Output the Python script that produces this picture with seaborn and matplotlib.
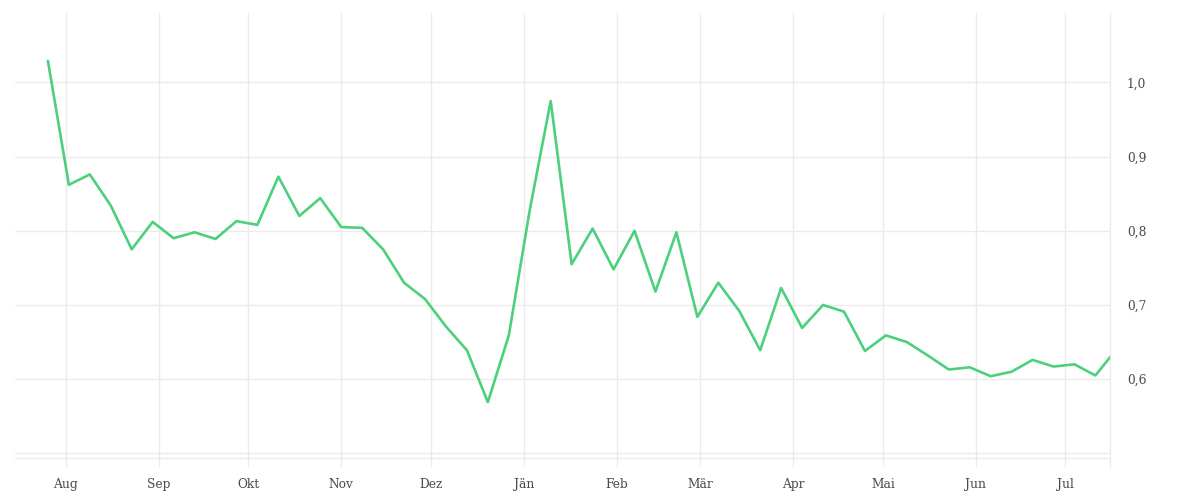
import pandas as pd
import matplotlib
matplotlib.use("Agg")
import matplotlib.pyplot as plt
import seaborn as sns

# weekly values
week_start = "2022-07-26"
values = [
    1.029, 0.862, 0.876, 0.834, 0.775, 0.812, 0.790, 0.798, 0.789, 0.813,
    0.808, 0.873, 0.820, 0.844, 0.805, 0.804, 0.775, 0.730, 0.708, 0.671,
    0.639, 0.569, 0.659, 0.828, 0.975, 0.755, 0.803, 0.748, 0.800, 0.718,
    0.798, 0.684, 0.730, 0.692, 0.639, 0.723, 0.669, 0.700, 0.691, 0.638,
    0.659, 0.650, 0.632, 0.613, 0.616, 0.604, 0.610, 0.626, 0.617, 0.620,
    0.605,
]
last_date = "2023-07-16"
last_value = 0.630

month_starts = ["2022-08-01", "2022-09-01", "2022-10-01", "2022-11-01",
                "2022-12-01", "2023-01-01", "2023-02-01", "2023-03-01",
                "2023-04-01", "2023-05-01", "2023-06-01", "2023-07-01"]
month_labels = ["Aug", "Sep", "Okt", "Nov", "Dez", "Jän", "Feb", "Mär",
                "Apr", "Mai", "Jun", "Jul"]
y_ticks = [0.6, 0.7, 0.8, 0.9, 1.0]

dates = list(pd.date_range(week_start, periods=len(values), freq="7D"))
dates.append(pd.Timestamp(last_date))
df = pd.DataFrame({"date": dates, "value": values + [last_value]})

sns.set_style("white")
plt.rcParams["font.family"] = ["DejaVu Serif"]

grid_color = "#ebebeb"
fig = plt.figure(figsize=(12, 5), dpi=100)
ax = fig.add_axes([0.0125, 0.0666, 0.9128, 0.908])

sns.lineplot(data=df, x="date", y="value", ax=ax, color="#4cd07d",
             linewidth=1.9, zorder=3)

ax.set_xlim(pd.Timestamp("2022-07-15"), pd.Timestamp(last_date))
ax.set_ylim(0.482, 1.094)

ax.set_xticks(pd.to_datetime(month_starts))
ax.set_xticklabels(month_labels)
ax.set_yticks(y_ticks)
ax.set_yticklabels([f"{v:.1f}".replace(".", ",") for v in y_ticks])
ax.yaxis.tick_right()

for v in y_ticks + [0.5, 0.4937]:
    ax.axhline(v, color=grid_color, linewidth=1, zorder=1)
ax.grid(axis="x", color=grid_color, linewidth=1, zorder=1)
ax.grid(axis="y", visible=False)

for side in ["top", "left", "bottom"]:
    ax.spines[side].set_visible(False)
ax.spines["right"].set_color(grid_color)
ax.spines["right"].set_linewidth(1)

ax.tick_params(axis="x", length=0, pad=8, labelsize=8.8, labelcolor="#4a4a4a")
ax.tick_params(axis="y", length=0, pad=12, labelsize=8.8, labelcolor="#4a4a4a")
ax.set_xlabel("")
ax.set_ylabel("")

fig.savefig("out.png", dpi=100)
